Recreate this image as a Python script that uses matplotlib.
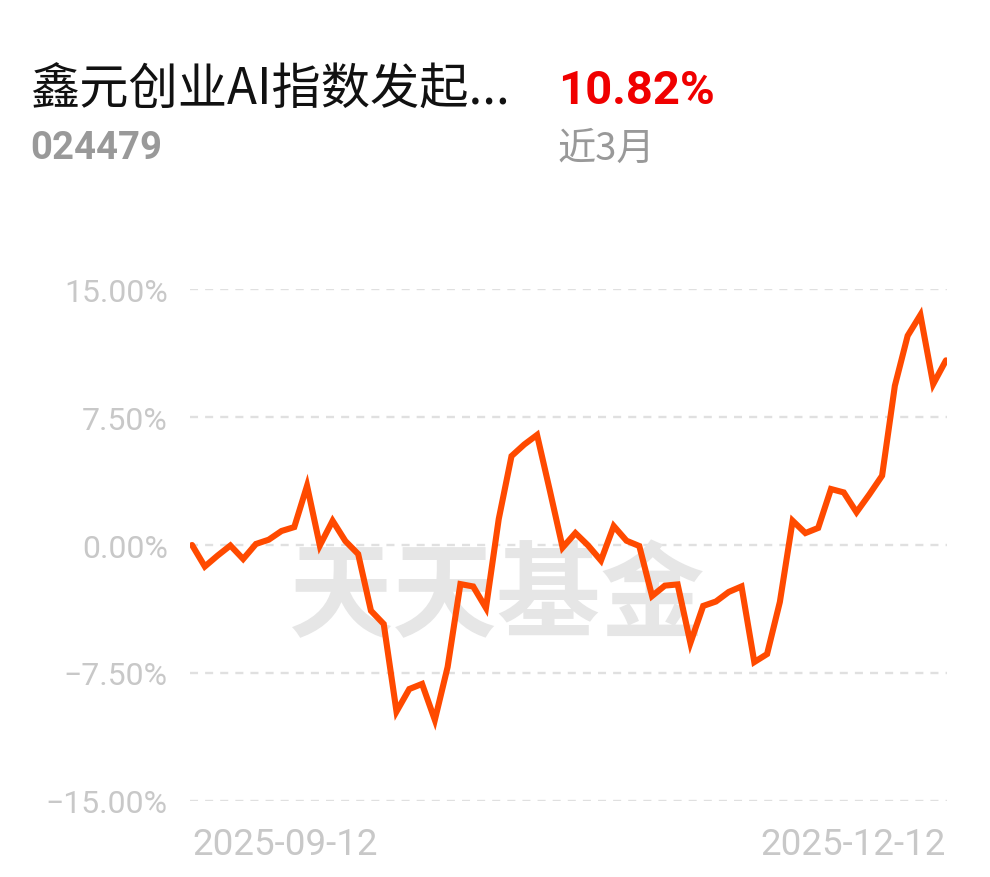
import numpy as np
import matplotlib
matplotlib.use('Agg')
from matplotlib import pyplot as plt

# fund info
fund_name = '鑫元创业AI指数发起...'
fund_code = '024479'
period_label = '近3月'
period_return = '10.82%'

# cumulative return (%) for each trading day, 2025-09-12 .. 2025-12-12
returns = [0.00, -1.26, -0.62, -0.03, -0.82, 0.06, 0.31, 0.82, 1.05, 3.47,
           -0.03, 1.42, 0.23, -0.53, -3.85, -4.63, -9.76, -8.44, -8.14, -10.25,
           -7.15, -2.29, -2.43, -3.69, 1.52, 5.21, 5.89, 6.45, 3.19, -0.15,
           0.70, -0.03, -0.91, 1.11, 0.25, -0.06, -2.99, -2.38, -2.31, -5.74,
           -3.57, -3.31, -2.75, -2.43, -6.86, -6.39, -3.34, 1.42, 0.70, 1.00,
           3.28, 3.08, 1.92, 2.96, 4.06, 9.33, 12.26, 13.48, 9.43, 10.82]
date_labels = ['2025-09-12', '2025-12-12']
y_ticks = [-15, -7.5, 0, 7.5, 15]
y_labels = ['−15.00%', '−7.50%', '0.00%', '7.50%', '15.00%']

cjk = ['Noto Sans CJK SC', 'DejaVu Sans']

fig = plt.figure(figsize=(9.9, 8.78), dpi=100)
W, H = 990, 878
ax = fig.add_axes([190 / W, (H - 802) / H, (947 - 190) / W, 512 / H])

x = np.arange(len(returns))
ax.plot(x, returns, color='#ff4a00', lw=4.4, solid_joinstyle='miter',
        solid_capstyle='round', zorder=3)

ax.set_ylim(-15, 15)
ax.set_xlim(-0.16, len(returns) - 1 + 0.08)
ax.set_yticks(y_ticks)
ax.set_yticklabels(y_labels, family='Roboto', fontsize=23, color='#c8c8c8')
ax.set_xticks([0, len(returns) - 1])
ax.set_xticklabels(date_labels, family='Roboto', fontsize=26.5, color='#c8c8c8')
xl = ax.get_xticklabels()
xl[0].set_ha('left')
xl[1].set_ha('right')
ax.tick_params(axis='both', length=0)
ax.tick_params(axis='y', pad=16)
ax.tick_params(axis='x', pad=18)
for s in ax.spines.values():
    s.set_visible(False)
for yv in y_ticks:
    ax.axhline(yv, color='#e0e0e0', lw=1.7, ls=(0, (3.4, 3.0)), zorder=1)

# watermark, under the line
ax.text(497 / W, 1 - 598 / H, '天天基金', transform=fig.transFigure,
        family=cjk, fontsize=75, fontweight='bold', color='#e6e6e6',
        ha='center', va='center', zorder=2)

# header
fig.text(30 / W, 1 - 105 / H, fund_name, family=cjk, fontsize=35.5,
         color='#111111', ha='left', va='baseline')
fig.text(30 / W, 1 - 159 / H, fund_code, family='Roboto', fontsize=27.5,
         fontweight='bold', color='#999999', ha='left', va='baseline')
fig.text(558 / W, 1 - 104 / H, period_return, family='Roboto', fontsize=34,
         fontweight='bold', color='#f00000', ha='left', va='baseline')
fig.text(558 / W, 1 - 160 / H, period_label, family=cjk, fontsize=27.5,
         color='#999999', ha='left', va='baseline')

fig.savefig('out.png', dpi=100)
